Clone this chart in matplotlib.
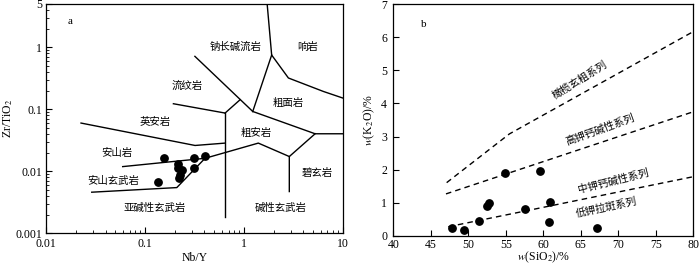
import numpy as np
import matplotlib
matplotlib.use("Agg")
import matplotlib.pyplot as plt
from matplotlib.ticker import NullFormatter

plt.rcParams['font.family'] = ['Liberation Serif', 'Noto Sans CJK SC']
plt.rcParams['mathtext.fontset'] = 'stix'
plt.rcParams['font.size'] = 8.5

# ---- panel a: Nb/Y vs Zr/TiO2 (field boundaries)
boundaries_a = [
    [(1.72, 5.0), (1.91, 0.75), (2.07, 0.63), (2.82, 0.32), (6.37, 0.194), (10, 0.152)],
    [(1.23, 0.0923), (1.91, 0.75)],
    [(0.32, 0.715), (1.23, 0.0923)],
    [(0.646, 0.087), (0.916, 0.1427)],
    [(0.194, 0.123), (0.646, 0.087)],
    [(0.646, 0.087), (0.646, 0.00186)],
    [(1.23, 0.0923), (5.25, 0.0403), (10, 0.0403)],
    [(5.25, 0.0403), (2.88, 0.0173), (2.88, 0.00471)],
    [(0.0596, 0.0119), (0.405, 0.0162), (1.40, 0.0285), (2.88, 0.0173)],
    [(0.0226, 0.060), (0.321, 0.0261), (0.646, 0.0285)],
    [(0.029, 0.0046), (0.21, 0.00546), (0.405, 0.0162)],
]
nb_y = [0.157, 0.218, 0.218, 0.236, 0.223, 0.228, 0.311, 0.405, 0.311, 0.135]
zr_ti = [0.0163, 0.0132, 0.0112, 0.0103, 0.00775, 0.00876, 0.0163, 0.0178, 0.0112, 0.00668]
labels_a = [
    ("钠长碱流岩", 0.815, 1.02), ("响岩", 4.46, 1.02), ("流纹岩", 0.267, 0.24),
    ("粗面岩", 2.80, 0.128), ("英安岩", 0.126, 0.063), ("粗安岩", 1.33, 0.0418),
    ("安山岩", 0.0522, 0.0199), ("碧玄岩", 5.5, 0.00944), ("安山玄武岩", 0.0475, 0.0070),
    ("亚碱性玄武岩", 0.126, 0.00257), ("碱性玄武岩", 2.38, 0.00257),
]

# ---- panel b: SiO2 vs K2O
series_lines = [
    [(47.11, 1.61), (55.47, 3.08), (80, 6.17)],
    [(47.02, 1.27), (80, 3.75)],
    [(47.33, 0.28), (80, 1.79)],
]
sio2 = [47.78, 49.47, 51.47, 52.53, 52.71, 54.93, 57.51, 59.56, 60.89, 60.8, 67.2]
k2o = [0.25, 0.18, 0.46, 0.905, 0.986, 1.89, 0.815, 1.97, 1.036, 0.43, 0.24]
labels_b = [
    ("橄榄玄粗系列", 64.9, 4.71, 32),
    ("高钾钙碱性系列", 67.6, 3.2, 20),
    ("中钾钙碱性系列", 69.3, 1.64, 14),
    ("低钾拉斑系列", 68.4, 0.865, 12),
]

fig = plt.figure(figsize=(7, 2.66), dpi=100)
ax1 = fig.add_axes([0.0657, 0.123, 0.424, 0.862])
ax2 = fig.add_axes([0.5619, 0.1128, 0.4286, 0.872])

for seg in boundaries_a:
    xs, ys = zip(*seg)
    ax1.plot(xs, ys, color='black', lw=1.0)
ax1.scatter(nb_y, zr_ti, s=28, color='black', zorder=3)
for txt, x, y in labels_a:
    ax1.text(x, y, txt, ha='center', va='center', fontsize=7.5)
ax1.text(0.0175, 2.6, "a", ha='center', va='center', fontsize=8)
ax1.set_xscale('log')
ax1.set_yscale('log')
ax1.set_xlim(0.01, 10)
ax1.set_ylim(0.001, 5)
ax1.set_xticks([0.01, 0.1, 1, 10])
ax1.set_xticklabels(["0.01", "0.1", "1", "10"])
ax1.set_yticks([0.001, 0.01, 0.1, 1, 5])
ax1.set_yticklabels(["0.001", "0.01", "0.1", "1", "5"])
ax1.yaxis.set_minor_formatter(NullFormatter())
ax1.xaxis.set_minor_formatter(NullFormatter())
ax1.set_xlabel("Nb/Y", labelpad=1)
ax1.set_ylabel("Zr/TiO$_2$", labelpad=0)

for seg in series_lines:
    xs, ys = zip(*seg)
    ax2.plot(xs, ys, color='black', lw=1.0, ls=(0, (4, 3)))
ax2.scatter(sio2, k2o, s=28, color='black', zorder=3)
for txt, x, y, r in labels_b:
    ax2.text(x, y, txt, ha='center', va='center', rotation=r,
             rotation_mode='anchor', fontsize=7.5)
ax2.text(44.1, 6.37, "b", ha='center', va='center', fontsize=8)
ax2.set_xlim(40, 80)
ax2.set_ylim(0, 7)
ax2.set_xticks(np.arange(40, 81, 5))
ax2.set_yticks(np.arange(0, 8, 1))
ax2.set_xlabel("$w$(SiO$_2$)/%", labelpad=-1)
ax2.set_ylabel("$w$(K$_2$O)/%", labelpad=3)

for ax in (ax1, ax2):
    ax.tick_params(which='both', direction='in', top=False, right=False)
    ax.tick_params(which='major', length=4)
    ax.tick_params(which='minor', length=2)
    for sp in ax.spines.values():
        sp.set_linewidth(0.9)
ax1.tick_params(axis='x', pad=3.5)
ax1.tick_params(axis='y', pad=3)
ax2.tick_params(axis='x', pad=2.5)
ax2.tick_params(axis='y', pad=4.5)

fig.savefig("out.png", dpi=100)
